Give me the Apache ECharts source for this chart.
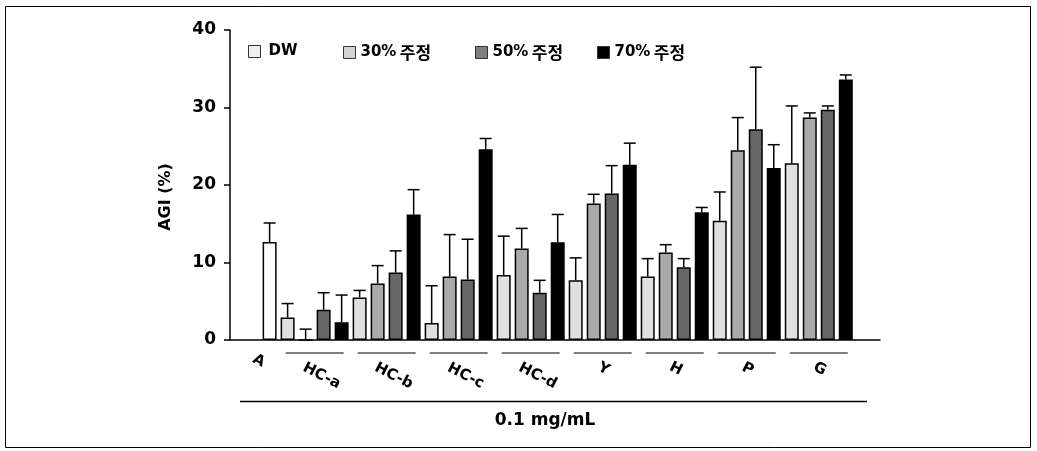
<!DOCTYPE html>
<html>
<head>
<meta charset="utf-8">
<script src="https://cdn.jsdelivr.net/npm/echarts@6/dist/echarts.min.js"></script>
<style>
html,body{margin:0;padding:0;background:#fff;}
#chart{width:1037px;height:451px;}
</style>
</head>
<body>
<div id="chart"></div>
<script>
// ---- data ----
const groups = ['HC-a', 'HC-b', 'HC-c', 'HC-d', 'Y', 'H', 'P', 'G'];
const controlName = 'A';
const controlValue = 12.65;
const controlErr = 2.45;
const seriesNames = ['DW', '30% 주정', '50% 주정', '70% 주정'];
const dwVals  = [2.9, 5.5, 2.2, 8.4, 7.7, 8.2, 15.4, 22.8];
const dwErr   = [1.8, 0.9, 4.8, 5.0, 2.9, 2.3, 3.7, 7.4];
const e30Vals = [0, 7.3, 8.2, 11.8, 17.6, 11.3, 24.5, 28.7];
const e30Err  = [1.4, 2.3, 5.4, 2.6, 1.2, 1.0, 4.2, 0.6];
const e50Vals = [3.9, 8.7, 7.8, 6.1, 18.9, 9.4, 27.2, 29.7];
const e50Err  = [2.2, 2.8, 5.2, 1.6, 3.6, 1.1, 8.0, 0.5];
const e70Vals = [2.3, 16.2, 24.6, 12.6, 22.6, 16.5, 22.2, 33.6];
const e70Err  = [3.5, 3.2, 1.4, 3.6, 2.8, 0.6, 3.0, 0.6];
const yTicks = [0, 10, 20, 30, 40];
const yTitle = 'AGI (%)';
const xTitle = '0.1 mg/mL';

// ---- styles ----
const barColors = ['#e0e0e0', '#aaaaaa', '#666666', '#000000'];
const legendColors = ['#efefef', '#d3d3d3', '#7e7e7e', '#000000'];
const legendLeft = [243, 338, 470, 592];
const FONT = "'DejaVu Sans', 'Noto Sans CJK KR', sans-serif";
const KFONT = "'Noto Sans CJK KR', 'DejaVu Sans', sans-serif";

const allVals = [dwVals, e30Vals, e50Vals, e70Vals];
const allErr = [dwErr, e30Err, e50Err, e70Err];
// slot positions: control at 0, group g bar s at 1 + 4g + s
const pos = (g, s) => 1 + 4 * g + s;

const series = [];
series.push({
  name: controlName, type: 'bar', barWidth: 14, barGap: '-100%',
  data: [[0, controlValue]],
  itemStyle: { color: '#ffffff', borderColor: '#000', borderWidth: 1.5 },
  z: 2
});
allVals.forEach((vals, s) => {
  series.push({
    name: seriesNames[s], type: 'bar', barWidth: 14, barGap: '-100%',
    data: vals.map((v, g) => [pos(g, s), v]),
    itemStyle: { color: barColors[s], borderColor: '#000', borderWidth: 1.5 },
    z: 2
  });
});

const errData = [[0, controlValue, controlErr]];
allVals.forEach((vals, s) => vals.forEach((v, g) => errData.push([pos(g, s), v, allErr[s][g]])));
series.push({
  type: 'custom', name: 'err', z: 3, clip: false, silent: true,
  encode: { x: 0, y: 1 },
  data: errData,
  renderItem: function (params, api) {
    const x = api.value(0), v = api.value(1), e = api.value(2);
    const p0 = api.coord([x, v]), p1 = api.coord([x, v + e]);
    const st = { stroke: '#000', lineWidth: 1.5 };
    return { type: 'group', children: [
      { type: 'line', shape: { x1: p0[0], y1: p0[1], x2: p1[0], y2: p1[1] }, style: st },
      { type: 'line', shape: { x1: p1[0] - 6, y1: p1[1], x2: p1[0] + 6, y2: p1[1] }, style: st }
    ]};
  }
});

const labelData = [[0, 0, -1]].concat(groups.map((g, i) => [pos(i, 1.5), 0, i]));
series.push({
  type: 'custom', name: 'glabels', z: 3, clip: false, silent: true,
  encode: { x: 0, y: 1 },
  data: labelData,
  renderItem: function (params, api) {
    const x = api.value(0), idx = api.value(2);
    const p = api.coord([x, 0]);
    const name = idx < 0 ? controlName : groups[idx];
    const children = [];
    let dx, dy;
    if (idx < 0) { dx = -11; dy = 21; }
    else if (name.length > 1) { dx = 7; dy = 36; }
    else { dx = 1; dy = 29; }
    if (idx >= 0) {
      children.push({ type: 'line', shape: { x1: p[0] - 29, y1: p[1] + 13, x2: p[0] + 29, y2: p[1] + 13 },
        style: { stroke: '#000', lineWidth: 1.2 } });
    }
    children.push({ type: 'text', x: p[0] + dx, y: p[1] + dy, rotation: -27 * Math.PI / 180,
      style: { text: name, align: 'center', verticalAlign: 'middle', fill: '#000',
        font: "bold 15px " + FONT } });
    return { type: 'group', children: children };
  }
});

const legends = seriesNames.map((n, i) => ({
  data: [{ name: n, itemStyle: { color: legendColors[i], borderColor: '#333', borderWidth: 1 } }],
  left: legendLeft[i], top: 39, orient: 'horizontal',
  icon: 'rect', itemWidth: 12, itemHeight: 12, selectedMode: false,
  formatter: function (name) {
    const parts = name.split(' ');
    return parts.length > 1 ? '{a|' + parts[0] + '} {k|' + parts[1] + '}' : '{a|' + name + '}';
  },
  textStyle: {
    padding: i === 0 ? [0, 0, 0, 3] : 0,
    rich: {
      a: { fontFamily: FONT, fontWeight: 'bold', fontSize: 15, color: '#000', lineHeight: 20 },
      k: { fontFamily: KFONT, fontWeight: 'bold', fontSize: 17, color: '#000', lineHeight: 20 }
    }
  }
}));

const option = {
  animation: false,
  backgroundColor: '#ffffff',
  grid: { left: 230, right: 157, top: 30, bottom: 111, containLabel: false },
  legend: legends,
  xAxis: {
    type: 'value', min: -2.2, max: 33.9,
    axisLine: { show: true, onZero: false, lineStyle: { color: '#000', width: 1.5 } },
    axisTick: { show: false }, axisLabel: { show: false }, splitLine: { show: false }
  },
  yAxis: {
    type: 'value', min: yTicks[0], max: yTicks[yTicks.length - 1], interval: 10,
    axisLine: { show: true, onZero: false, lineStyle: { color: '#000', width: 1.5 } },
    axisTick: { show: true, inside: false, length: 6, lineStyle: { color: '#000', width: 1.5 } },
    axisLabel: { margin: 14, color: '#000', fontFamily: FONT, fontWeight: 'bold', fontSize: 17 },
    splitLine: { show: false }
  },
  graphic: [
    { type: 'rect', shape: { x: 5.5, y: 6.5, width: 1025, height: 441 }, style: { fill: 'none', stroke: '#000', lineWidth: 1 }, z: 0, silent: true },
    { type: 'text', x: 166, y: 197, rotation: Math.PI / 2,
      style: { text: yTitle, align: 'center', verticalAlign: 'middle', fill: '#000', font: 'bold 16px ' + FONT } },
    { type: 'line', shape: { x1: 240, y1: 401.5, x2: 867, y2: 401.5 }, style: { stroke: '#000', lineWidth: 1.3 } },
    { type: 'text', x: 545, y: 421,
      style: { text: xTitle, align: 'center', verticalAlign: 'middle', fill: '#000', font: 'bold 17px ' + FONT } }
  ],
  series: series
};

const chart = echarts.init(document.getElementById('chart'), null, { renderer: 'canvas' });
chart.setOption(option);
</script>
</body>
</html>
